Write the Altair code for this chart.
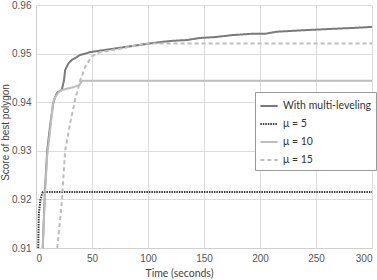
import altair as alt
import pandas as pd

series_names = ["With multi-leveling", "μ = 5", "μ = 10", "μ = 15"]

multi_t = [6, 8, 10, 12.5, 15.5, 17, 19, 23, 25, 26, 29, 32, 36, 39, 44, 48, 60, 75, 90, 105,
           120, 135, 146, 160, 175, 194, 205, 215, 230, 247, 265, 285, 300]
multi_v = [0.910, 0.922, 0.930, 0.935, 0.940, 0.941, 0.942, 0.9425, 0.9445, 0.9466, 0.948, 0.9487,
           0.9492, 0.9497, 0.9500, 0.9503, 0.9507, 0.9512, 0.9517, 0.9522, 0.9526, 0.9528, 0.9532,
           0.9534, 0.9538, 0.9541, 0.9541, 0.9545, 0.9547, 0.9549, 0.9551, 0.9553, 0.9555]

mu5_t = [2, 2.5, 4, 6, 300]
mu5_v = [0.910, 0.917, 0.920, 0.9215, 0.9215]

mu10_t = [6, 8, 10, 12.5, 15, 17, 20, 23, 28, 32, 36, 39, 41, 300]
mu10_v = [0.910, 0.921, 0.929, 0.934, 0.9395, 0.941, 0.942, 0.9425, 0.9428, 0.943, 0.9433,
          0.9436, 0.9444, 0.9444]

mu15_t = [19, 23, 26, 31, 35, 39.6, 44, 49.7, 57, 65, 75, 90, 100, 300]
mu15_v = [0.910, 0.9193, 0.930, 0.9363, 0.9405, 0.9446, 0.9473, 0.9494, 0.9503, 0.9506, 0.951,
          0.9517, 0.9521, 0.9521]

x_ticks = [0, 50, 100, 150, 200, 250, 300]
y_ticks = [0.91, 0.92, 0.93, 0.94, 0.95, 0.96]

rows = []
for name, ts, vs in zip(series_names, [multi_t, mu5_t, mu10_t, mu15_t],
                        [multi_v, mu5_v, mu10_v, mu15_v]):
    for t, v in zip(ts, vs):
        rows.append({"series": name, "t": t, "v": v})
df = pd.DataFrame(rows)

colors = ["#7a7a7a", "#3c3c3c", "#bdbdbd", "#bdbdbd"]
dashes = [[1, 0], [1.5, 1], [1, 0], [4, 3]]
widths = [2, 2, 1.3, 1.3]

chart = alt.Chart(df).mark_line(clip=True).encode(
    x=alt.X("t:Q", title="Time (seconds)",
            scale=alt.Scale(domain=[0, 300], nice=False),
            axis=alt.Axis(values=x_ticks, format="d", titleFont="Lato", titleFontSize=10.5,
                          titleX=143, titlePadding=5)),
    y=alt.Y("v:Q", title="Score of best polygon",
            scale=alt.Scale(domain=[0.91, 0.96], nice=False, zero=False),
            axis=alt.Axis(values=y_ticks, format=".2f", titleFont="Liberation Sans",
                          titleFontSize=10, titleX=-31, titleY=127,
                          titleAngle=270, titleAlign="center", titleBaseline="middle")),
    color=alt.Color("series:N", title=None,
                    scale=alt.Scale(domain=series_names, range=colors)),
    strokeDash=alt.StrokeDash("series:N", title=None,
                              scale=alt.Scale(domain=series_names, range=dashes)),
    strokeWidth=alt.StrokeWidth("series:N", title=None,
                                scale=alt.Scale(domain=series_names, range=widths)),
    order="t:Q",
).properties(
    width=336, height=243,
    autosize=alt.AutoSizeParams(type="none"),
    padding={"left": 36, "top": 5, "right": 5, "bottom": 32},
).configure_view(
    stroke=None
).configure_axis(
    grid=True, gridColor="#dcdcdc", gridWidth=1,
    domainColor="#cfcfcf", ticks=False,
    labelFont="Liberation Sans", labelFontSize=10, labelColor="#555555",
    titleFontWeight="normal", titleColor="#444444",
    labelPadding=5,
).configure_legend(
    orient="none", legendX=219, legendY=87,
    fillColor="white", strokeColor="#999999", padding=4,
    symbolType="stroke", symbolSize=300, symbolStrokeWidth=2,
    labelFont="Lato", labelFontSize=10.5, labelColor="#333333",
    rowPadding=2, labelLimit=200, labelOffset=4,
)

chart.save("out.html", embed_options={"renderer": "svg", "actions": False})
